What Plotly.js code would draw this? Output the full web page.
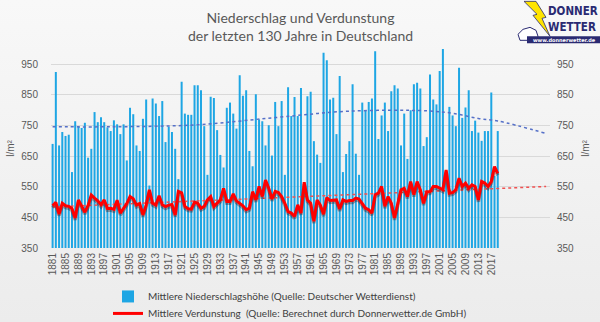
<!DOCTYPE html>
<html>
<head>
<meta charset="utf-8">
<script src="https://cdn.plot.ly/plotly-3.0.1.min.js"></script>
<style>
html,body{margin:0;padding:0;width:600px;height:322px;overflow:hidden;background:#f1f1f1;}
#chart{width:600px;height:345px;background:linear-gradient(#f8f8f8 0px,#ececec 322px);}
</style>
</head>
<body>
<div id="chart"></div>
<script>
// Data
const firstYear = 1881;
const niederschlag = [
 690,925,685,729,716,720,598,764,748,742,
 759,645,674,794,761,777,761,744,732,767,
 754,722,754,636,808,787,685,667,772,835,
 554,838,822,781,830,696,746,729,674,575,
 893,789,785,785,882,882,865,748,589,844,
 840,735,654,613,808,825,789,740,914,847,
 865,667,617,852,770,764,685,751,652,827,
 748,830,589,875,781,843,781,873,555,846,
 860,699,655,628,988,963,835,841,722,912,
 598,657,699,885,658,589,825,798,827,838,
 993,706,783,825,732,862,882,871,685,789,
 641,800,885,890,871,683,712,917,835,819,
 928,1001,600,811,783,748,939,775,809,865,
 732,766,727,700,732,732,858,586,732
];
const verdunstung = [
 488,499,461,496,488,486,479,448,507,489,
 467,489,523,513,504,491,507,479,480,476,
 506,464,480,495,518,511,490,495,458,490,
 540,496,490,521,491,485,490,492,458,535,
 530,486,478,477,500,496,480,486,507,518,
 486,496,507,545,502,502,527,504,496,488,
 475,480,534,507,551,518,572,545,510,535,
 531,518,496,469,464,453,491,464,565,507,
 496,437,507,490,460,515,505,507,507,477,
 507,502,505,505,513,510,496,480,475,464,
 524,529,551,486,518,496,448,496,540,545,
 518,567,524,567,540,496,534,534,551,551,
 545,540,605,529,531,540,578,551,562,545,
 556,551,507,567,562,551,567,616,594
];
// dotted trend lines
const trendNYears = [1881,1900,1925,1950,1973,1997,2005,2013,2019,2034];
const trendNValues = [746,746,752,776,797,798,790,773,765,724];
const trendVYears = [1881,2034];
const trendVValues = [484,551];

const xTicks = [1881,1885,1889,1893,1897,1901,1905,1909,1913,1917,1921,1925,1929,1933,1937,1941,1945,1949,1953,1957,1961,1965,1969,1973,1977,1981,1985,1989,1993,1997,2001,2005,2009,2013,2017];
const yTicks = [350,450,550,650,750,850,950];

const titleText = 'Niederschlag und Verdunstung<br>der letzten 130 Jahre in Deutschland';
const nameN = 'Mittlere Niederschlagshöhe (Quelle: Deutscher Wetterdienst)';
const nameV = 'Mittlere Verdunstung  (Quelle: Berechnet durch Donnerwetter.de GmbH)';

const years = niederschlag.map((_, i) => firstYear + i);

const W = 600, H = 345;
// pixel -> paper helpers for decoration placement
const L = 51, R = 550, T = 48.7, B = 248;
const px = x => (x - L) / (R - L);
const py = y => (B - y) / (B - T);

const traces = [
  {type:'bar', x: years, y: niederschlag, name: nameN, marker:{color:'#1ea6e4'}, xaxis:'x', yaxis:'y', legend:'legend', hoverinfo:'skip'},
  {type:'scatter', mode:'lines', x: trendNYears, y: trendNValues, line:{color:'#5570c8', width:1.5, dash:'dot', shape:'spline'}, showlegend:false, xaxis:'x', yaxis:'y'},
  {type:'scatter', mode:'lines', x: trendVYears, y: trendVValues, line:{color:'#f05050', width:1.5, dash:'dot'}, showlegend:false, xaxis:'x', yaxis:'y'},
  {type:'scatter', mode:'lines', x: years, y: verdunstung, line:{color:'rgba(60,0,0,0.35)', width:3.5}, showlegend:false, xaxis:'x', yaxis:'y2'},
  {type:'scatter', mode:'lines', x: years, y: verdunstung, name: nameV, line:{color:'#ff0000', width:3}, xaxis:'x', yaxis:'y3', legend:'legend2'}
];

const tickFont = {family:'Liberation Sans, Arial, sans-serif', size:10, color:'#595959'};
const legendFont = {family:'Lato, sans-serif', size:10, color:'#404040'};
const layout = {
  width:W, height:H,
  margin:{l:L, r:W-R, t:T, b:H-B},
  paper_bgcolor:'rgba(0,0,0,0)', plot_bgcolor:'rgba(0,0,0,0)',
  showlegend:true,
  bargap:0.38,
  title:{text:titleText, x:0.5, xref:'paper', xanchor:'center', yref:'container', y:1-23/H, yanchor:'middle', font:{family:'Lato, sans-serif', size:14, color:'#595959'}},
  xaxis:{range:[1880.5, 2035.2], tickvals:xTicks, ticktext:xTicks.map(String), tickangle:-90, showgrid:false, zeroline:false, showline:false, ticks:'', tickfont:tickFont, ticklabelstandoff:2, fixedrange:true},
  yaxis:{range:[350,1000], tickvals:yTicks, showgrid:true, gridcolor:'#d9d9d9', gridwidth:1, zeroline:false, showline:false, ticks:'', tickfont:tickFont, ticklabelstandoff:12,
         title:{text:'l/m²', font:{family:'Liberation Sans, Arial, sans-serif', size:10, color:'#595959'}, standoff:4}},
  yaxis2:{range:[356,1006], overlaying:'y', visible:false},
  yaxis3:{range:[350,1000], overlaying:'y', side:'right', tickvals:yTicks, showgrid:false, zeroline:false, showline:false, ticks:'', tickfont:tickFont, ticklabelstandoff:6,
         title:{text:'l/m²', font:{family:'Liberation Sans, Arial, sans-serif', size:10, color:'#595959'}, standoff:8}},
  legend:{x:px(108), xanchor:'left', y:py(282), yanchor:'top', orientation:'v', bgcolor:'rgba(0,0,0,0)', font:legendFont, itemwidth:30},
  legend2:{x:px(108), xanchor:'left', y:py(299), yanchor:'top', orientation:'v', bgcolor:'rgba(0,0,0,0)', font:legendFont, itemwidth:30},
  shapes:[
    {type:'path', xref:'paper', yref:'paper', path:`M ${px(524)},${py(1)} L ${px(536)},${py(1)} L ${px(546)},${py(17)} L ${px(542)},${py(18)} L ${px(550)},${py(36)} L ${px(533)},${py(15)} L ${px(537)},${py(14)} Z`, fillcolor:'#ffe400', line:{color:'#2a2a72', width:0.8}},
    {type:'path', xref:'paper', yref:'paper', path:`M ${px(520)},${py(40)} L ${px(518)},${py(34)} L ${px(523)},${py(29)} L ${px(530)},${py(27)} L ${px(536)},${py(30)} L ${px(538)},${py(36)} L ${px(536)},${py(40)} Z`, fillcolor:'#ffffff', line:{color:'#2a2a72', width:1}},
    {type:'rect', xref:'paper', yref:'paper', x0:px(527), x1:px(601), y0:py(43), y1:py(36), fillcolor:'#2a2a72', line:{width:0}}
  ],
  annotations:[
    {text:'<b>DONNER</b>', xref:'paper', yref:'paper', x:px(546), y:py(11), xanchor:'left', yanchor:'middle', showarrow:false, font:{family:'Liberation Sans Narrow, DejaVu Sans Condensed, sans-serif', size:11.5, color:'#2a2a72'}},
    {text:'<b>WETTER</b>', xref:'paper', yref:'paper', x:px(546), y:py(27), xanchor:'left', yanchor:'middle', showarrow:false, font:{family:'Liberation Sans Narrow, DejaVu Sans Condensed, sans-serif', size:11.5, color:'#2a2a72'}},
    {text:'<b>www.donnerwetter.de</b>', xref:'paper', yref:'paper', x:px(564), y:py(39.5), xanchor:'center', yanchor:'middle', showarrow:false, font:{family:'DejaVu Sans, sans-serif', size:5, color:'#ffffff'}}
  ]
};

Plotly.newPlot('chart', traces, layout, {displayModeBar:false, staticPlot:true});
</script>
</body>
</html>
